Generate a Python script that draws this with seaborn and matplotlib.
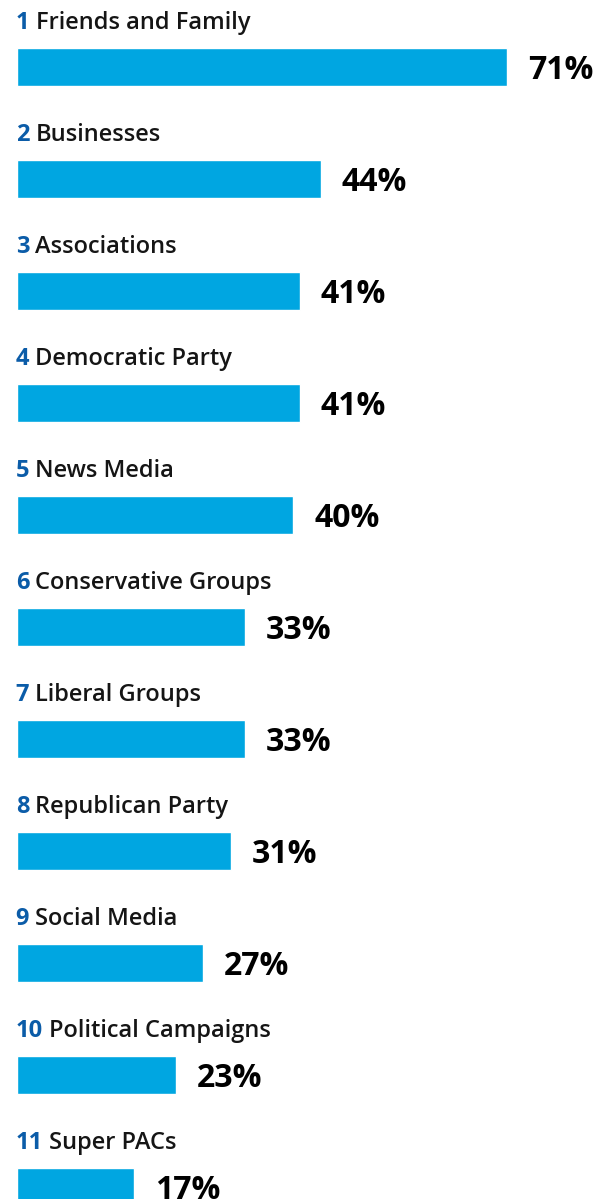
import matplotlib
matplotlib.use("Agg")
import matplotlib.pyplot as plt
import matplotlib.patheffects as pe
from matplotlib import font_manager
import seaborn as sns
import pandas as pd

ranks = ["1", "2", "3", "4", "5", "6", "7", "8", "9", "10", "11"]
categories = ["Friends and Family", "Businesses", "Associations", "Democratic Party",
              "News Media", "Conservative Groups", "Liberal Groups", "Republican Party",
              "Social Media", "Political Campaigns", "Super PACs"]
values = [71, 44, 41, 41, 40, 33, 33, 31, 27, 23, 17]
value_labels = ["71%", "44%", "41%", "41%", "40%", "33%", "33%", "31%", "27%", "23%", "17%"]

BAR = "#00a6e1"
NUM = "#0b5ca8"
TXT = "#151515"

sns.set_theme(style="white")
plt.rcParams["font.family"] = ["Open Sans", "DejaVu Sans"]

# check whether a true SemiBold face exists; otherwise thicken regular slightly
has_semibold = any(("open" in f.name.lower() and f.weight in (600, "semibold", "demibold"))
                   for f in font_manager.fontManager.ttflist)
label_effects = [] if has_semibold else [pe.withStroke(linewidth=0.6, foreground=TXT)]

df = pd.DataFrame({"cat": categories, "val": values})

fig = plt.figure(figsize=(6.08, 11.99), dpi=100)
ax = fig.add_axes([0.028, 0, 0.972, 1])
sns.barplot(data=df, x="val", y="cat", orient="h", color=BAR, width=0.34,
            saturation=1, ax=ax)
ax.set_xlim(0, 85.6)
ax.set_ylim(10.107, -0.598)
ax.axis("off")

fig.canvas.draw()
renderer = fig.canvas.get_renderer()
for i, (r, c, v, lab) in enumerate(zip(ranks, categories, values, value_labels)):
    t = ax.annotate(r, xy=(0, i - 0.339), xycoords="data", xytext=(-1.0, 0),
                    textcoords="offset points", ha="left", va="baseline",
                    fontsize=17, fontweight="bold", color=NUM)
    bb = t.get_window_extent(renderer)
    w_pt = bb.width * 72 / fig.dpi
    ax.annotate(c, xy=(0, i - 0.339), xycoords="data", xytext=(-1.0 + w_pt + 4.5, 0),
                textcoords="offset points", ha="left", va="baseline",
                fontsize=17, fontweight="semibold", color=TXT,
                path_effects=label_effects)
    ax.annotate(lab, xy=(v, i + 0.107), xycoords="data", xytext=(15, 0),
                textcoords="offset points", ha="left", va="baseline",
                fontsize=23, fontweight="bold", color="#000000")

fig.savefig("out.png", dpi=100)
